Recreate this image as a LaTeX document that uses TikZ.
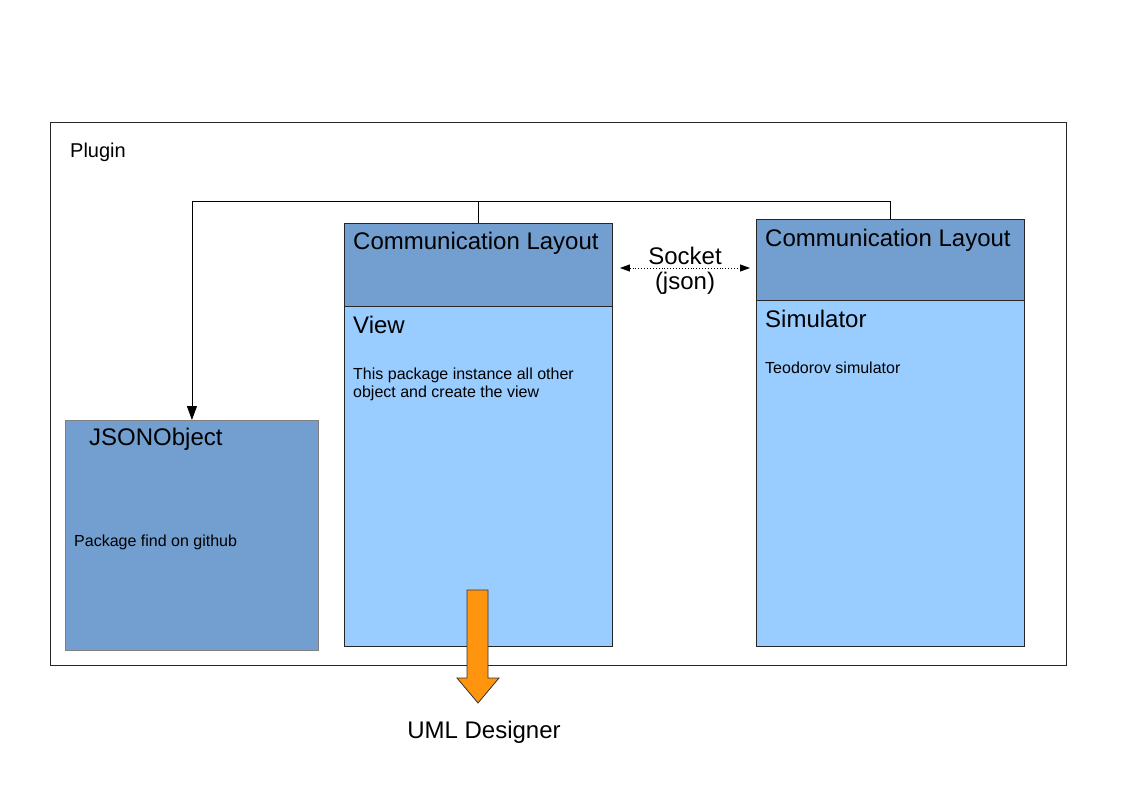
\documentclass[tikz,border=0pt]{standalone}
\usepackage{fontspec}
\setmainfont{Liberation Sans}
\usetikzlibrary{arrows.meta}
\definecolor{hdrblue}{HTML}{729FCF}
\definecolor{bodyblue}{HTML}{99CCFF}
\definecolor{umlorange}{HTML}{FF950E}
\tikzset{
  box/.style={draw=black!85, line width=0.9pt, inner sep=0pt, anchor=north west},
  big/.style={anchor=base west, inner sep=0pt, font=\fontsize{24}{28}\selectfont},
  small/.style={anchor=base west, inner sep=0pt, font=\fontsize{16}{18}\selectfont}
}
\begin{document}
\begin{tikzpicture}[x=1pt, y=-1pt]
  \useasboundingbox (0,0) rectangle (1123,794);
  % plugin frame
  \node[box, minimum width=1016, minimum height=543] (plugin) at (50,122) {};
  \node[anchor=base west, inner sep=0pt, font=\fontsize{20}{24}\selectfont] (plugintxt) at (70,158) {Plugin};
  % view side
  \node[box, fill=bodyblue, minimum width=268, minimum height=423] (view) at (344,223) {};
  \node[box, fill=hdrblue, minimum width=268, minimum height=83] (viewhead) at (344,223) {};
  \node[big] (viewcom) at (353,250) {Communication Layout};
  \node[big] (viewtxt) at (353,333) {View};
  \node[small] (viewdesc1) at (353,379) {This package instance all other};
  \node[small] (viewdesc2) at (353,397) {object and create the view};
  % simulator side
  \node[box, fill=bodyblue, minimum width=268, minimum height=427] (sim) at (756,219) {};
  \node[box, fill=hdrblue, minimum width=268, minimum height=81] (simhead) at (756,219) {};
  \node[big] (simcom) at (765,246) {Communication Layout};
  \node[big] (simtxt) at (765,327) {Simulator};
  \node[small] (simdesc) at (765,373) {Teodorov simulator};
  % json object
  \node[box, draw=black!50, fill=hdrblue, minimum width=253, minimum height=230] (json) at (65,420) {};
  \node[big] (jsontxt) at (89,445) {JSONObject};
  \node[small] (jsondesc) at (74,546) {Package find on github};
  % connectors
  \draw[line width=0.9pt] (viewhead.north) -- ++(0,-22);
  \draw[line width=0.9pt, -{Triangle[width=10pt,length=14pt]}] (simhead.north) -- ++(0,-18) -| (json.north);
  \node[anchor=base, inner sep=0pt, font=\fontsize{24}{28}\selectfont] (socket) at (685,264) {Socket};
  \node[anchor=base, inner sep=0pt, font=\fontsize{24}{28}\selectfont] (jsonlbl) at (685,289) {(json)};
  \draw[dotted, line width=0.9pt, {Triangle[width=7pt,length=10pt]}-{Triangle[width=7pt,length=10pt]}] (viewhead.east |- 0,268) ++(7,0) -- ([xshift=-6pt]simhead.west |- 0,268);
  % uml designer
  \fill[umlorange, draw=black!80, line width=0.8pt] (467,590) -- (488,590) -- (488,678) -- (499,678) -- (478,703) -- (457,678) -- (467,678) -- cycle;
  \node[anchor=base, inner sep=0pt, font=\fontsize{24}{28}\selectfont] (uml) at (484,738) {UML Designer};
\end{tikzpicture}
\end{document}
